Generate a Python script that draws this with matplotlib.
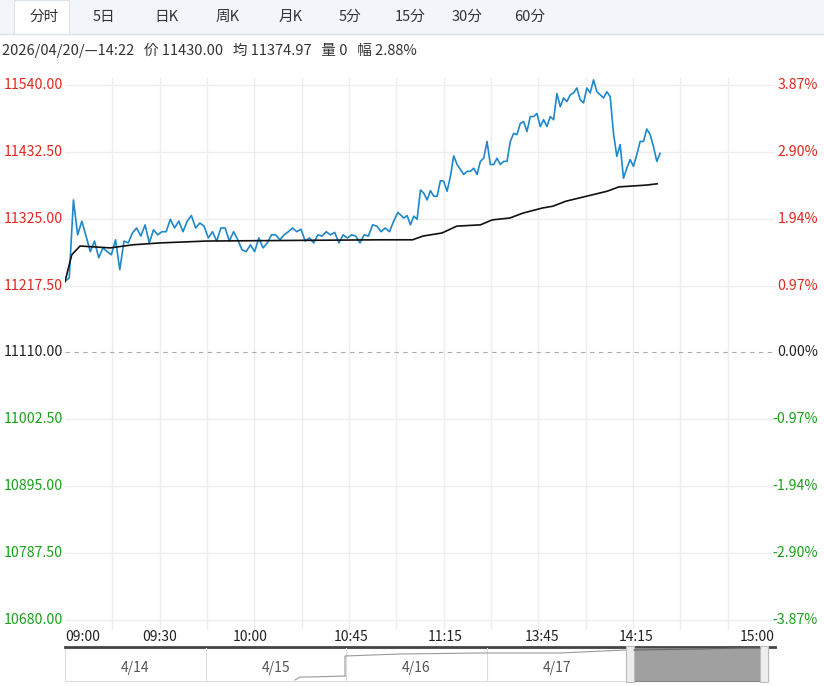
import numpy as np
import matplotlib.pyplot as plt
from matplotlib import font_manager
from matplotlib.patches import Rectangle

cjk = [f.name for f in font_manager.fontManager.ttflist if "CJK" in f.name and "Sans" in f.name]
cjk_sc = [n for n in cjk if "SC" in n] or cjk
plt.rcParams["font.family"] = (cjk_sc[:1] if cjk_sc else []) + ["DejaVu Sans"]

# ==== data ====
base = 11110.0
y_ticks = [11540.00, 11432.50, 11325.00, 11217.50, 11110.00, 11002.50, 10895.00, 10787.50, 10680.00]
pct_ticks = ["3.87%", "2.90%", "1.94%", "0.97%", "0.00%", "-0.97%", "-1.94%", "-2.90%", "-3.87%"]
x_labels = ["09:00", "09:30", "10:00", "10:45", "11:15", "13:45", "14:15", "15:00"]
x_label_pos = [6, 32, 63, 97, 129, 162, 194, 235]  # minutes from open
tabs = ["分时", "5日", "日K", "周K", "月K", "5分", "15分", "30分", "60分"]
days = ["4/14", "4/15", "4/16", "4/17", "4/20"]
info = "2026/04/20/—14:22   价 11430.00   均 11374.97   量 0   幅 2.88%"

price_am = [11224, 11230, 11355, 11299, 11321, 11297, 11272, 11289, 11262, 11278,
            11272, 11267, 11291, 11243, 11289, 11286, 11302, 11310, 11297, 11315,
            11286, 11307, 11299, 11304, 11304, 11324, 11310, 11321, 11304, 11321,
            11330, 11310, 11318, 11313, 11294, 11304, 11289, 11310, 11310, 11289,
            11304, 11291, 11275, 11272, 11283, 11272, 11294, 11278, 11286, 11299,
            11299, 11291, 11299, 11304, 11310, 11304, 11308, 11289, 11294, 11286,
            11299, 11297, 11304, 11299, 11303, 11286, 11299, 11294, 11299, 11297,
            11286, 11299, 11297, 11315, 11313, 11304, 11310, 11304, 11321, 11335]
price_pm = [11326, 11330, 11315, 11329, 11324, 11371, 11366, 11355, 11370, 11361,
            11361, 11386, 11385, 11369, 11393, 11426, 11412, 11404, 11396, 11401,
            11401, 11406, 11396, 11417, 11422, 11449, 11412, 11412, 11422, 11412,
            11417, 11417, 11449, 11462, 11460, 11478, 11481, 11465, 11489, 11489,
            11494, 11473, 11484, 11473, 11489, 11484, 11526, 11505, 11519, 11513,
            11524, 11527, 11535, 11516, 11511, 11535, 11527, 11548, 11529, 11524,
            11519, 11529, 11521, 11462, 11425, 11444, 11390, 11406, 11420, 11409,
            11428, 11449, 11449, 11469, 11460, 11441, 11417, 11430]
avg_t = [0, 2.3, 5.1, 15.3, 23.1, 32.2, 48, 107, 118, 121.5, 128, 133, 141, 145,
         151, 155.5, 162, 165.6, 170, 177, 184, 188, 197.5, 201]
avg_p = [11224, 11267, 11281, 11278, 11283, 11286, 11289, 11291, 11291, 11297,
         11302, 11313, 11315, 11323, 11326, 11334, 11342, 11345, 11353, 11361,
         11369, 11376, 11379, 11381]

t = np.concatenate([np.linspace(0, 113, len(price_am)), np.linspace(115, 202, len(price_pm))])
price = np.array(price_am + price_pm)

W, H = 824, 686
fig = plt.figure(figsize=(W / 100, H / 100), dpi=100)

def frac(x0, y0, x1, y1):
    return [x0 / W, 1 - y1 / H, (x1 - x0) / W, (y1 - y0) / H]

# ---- top tab bar ----
top = fig.add_axes(frac(0, 0, W, 68))
top.set_xlim(0, W)
top.set_ylim(68, 0)
top.axis("off")
top.add_patch(Rectangle((0, 0), W, 34, color="#f2f5fa", zorder=0))
top.add_patch(Rectangle((14, 0), 55, 34, facecolor="white", edgecolor="#dde3ec", lw=0.8, zorder=1))
top.plot([0, W], [34, 34], color="#dde3ec", lw=1)
tab_x = [44, 104, 166, 228, 291, 350, 410, 467, 530]
for tx, tb in zip(tab_x, tabs):
    top.text(tx, 17, tb, ha="center", va="center", fontsize=10.5, color="#333333", zorder=2)
top.text(2, 50, info, ha="left", va="center", fontsize=10.5, color="#333333")

# ---- main chart ----
ax = fig.add_axes(frac(65, 78, 775, 630))
ax.set_xlim(0, 241)
ax.set_ylim(10664, 11551)
for v in np.linspace(0, 241, 16)[1:-1]:
    ax.axvline(v, color="#eeeeee", lw=1, zorder=0)
for yt in y_ticks:
    if yt != base:
        ax.axhline(yt, color="#eeeeee", lw=1, zorder=0)
ax.axhline(base, color="#aaaaaa", lw=0.8, ls=(0, (4, 4)), zorder=1)
ax.plot(t, price, color="#1e88c8", lw=1.2, zorder=3)
ax.plot(avg_t, avg_p, color="#111111", lw=1.2, zorder=4)
for s in ax.spines.values():
    s.set_visible(False)
ax.set_xticks([])
ax.set_yticks([])

for yt, pt in zip(y_ticks, pct_ticks):
    if yt > base:
        c = "#e0281e"
    elif yt < base:
        c = "#1aa01a"
    else:
        c = "#222222"
    ax.text(-61 / 710 * 241, yt, f"{yt:.2f}", ha="left", va="center", fontsize=10.2, color=c, clip_on=False)
    ax.text(1 + 43 / 710, (yt - 10664) / (11551 - 10664), pt, transform=ax.transAxes,
            ha="right", va="center", fontsize=10.2, color=c, clip_on=False)

# ---- x labels and navigator ----
bot = fig.add_axes(frac(0, 630, W, H))
bot.set_xlim(0, W)
bot.set_ylim(H, 630)
bot.axis("off")
for lx, lb in zip(x_label_pos, x_labels):
    px = 65 + lx / 241 * 710
    bot.text(px, 637, lb, ha="center", va="center", fontsize=10, color="#222222")
bot.plot([65, 775], [647, 647], color="#444444", lw=2)
bot.add_patch(Rectangle((65, 648), 703, 33, facecolor="white", edgecolor="#dddddd", lw=0.8))
for i, d in enumerate(days):
    x0 = 65 + i * 140.6
    if i > 0:
        bot.plot([x0, x0], [648, 681], color="#dddddd", lw=0.8)
    bot.text(x0 + 70, 668, d, ha="center", va="center", fontsize=10, color="#555555")
bot.add_patch(Rectangle((634, 648), 134, 33, facecolor="#a0a0a0", edgecolor="#888888", lw=0.8, zorder=3))
bot.add_patch(Rectangle((626, 646), 8, 36, facecolor="#eeeeee", edgecolor="#bbbbbb", lw=0.8, zorder=4))
bot.add_patch(Rectangle((760, 646), 8, 36, facecolor="#eeeeee", edgecolor="#bbbbbb", lw=0.8, zorder=4))
bot.plot([295, 300, 310, 345], [680, 677, 677, 676], color="#999999", lw=0.8)
bot.plot([345, 345, 400, 480, 560, 625], [676, 656, 654, 653, 653, 650], color="#999999", lw=0.8)
bot.plot([634, 700, 740, 760], [650, 649, 648, 648], color="#666666", lw=0.8, zorder=5)

fig.savefig("out.png", dpi=100)
